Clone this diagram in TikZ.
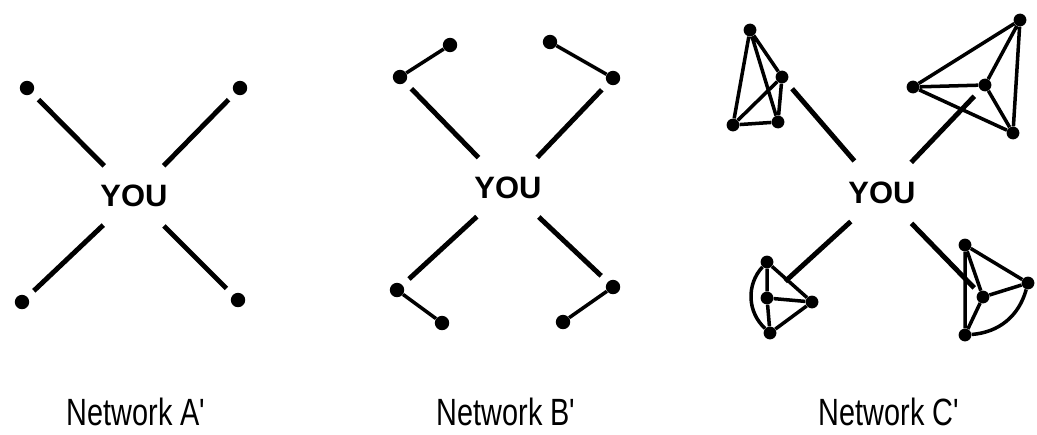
\documentclass[tikz,border=0pt]{standalone}
\usepackage{fontspec}
\setmainfont{Liberation Sans}
\newfontfamily\capfont[FakeStretch=0.76]{Liberation Sans}
\usepackage{tikz}

\tikzset{
  dot/.style={circle,fill,inner sep=0pt,minimum size=0.36cm},
  sdot/.style={circle,fill,inner sep=0pt,minimum size=0.32cm},
  you/.style={circle,inner sep=0pt,minimum size=2.1cm,font=\bfseries\fontsize{22}{22}\selectfont},
  tie/.style={line width=3.5pt,shorten <=0.22cm},
  link/.style={line width=2.5pt},
  caption/.style={inner sep=0pt,font=\capfont\fontsize{27}{27}\selectfont}
}

\begin{document}
\begin{tikzpicture}[x=0.025cm,y=-0.025cm]
    \useasboundingbox (0,0) rectangle (1037,434);

    \node[you] (ya) at (134,196) {YOU};
    \node[dot] (a1) at (27,88) {};
    \node[dot] (a2) at (240,88) {};
    \node[dot] (a3) at (22,302) {};
    \node[dot] (a4) at (238,300) {};
    \draw[tie] (a1) -- (ya);
    \draw[tie] (a2) -- (ya);
    \draw[tie] (a3) -- (ya);
    \draw[tie] (a4) -- (ya);

    \node[you] (yb) at (508,188) {YOU};
    \node[dot] (b1) at (400,77) {};
    \node[dot] (b2) at (450,45) {};
    \node[dot] (b3) at (613,78) {};
    \node[dot] (b4) at (550,42) {};
    \node[dot] (b5) at (397,290) {};
    \node[dot] (b6) at (442,323) {};
    \node[dot] (b7) at (613,287) {};
    \node[dot] (b8) at (563,322) {};
    \draw[link] (b1) -- (b2) (b3) -- (b4) (b5) -- (b6) (b7) -- (b8);
    \draw[tie] (b1) -- (yb);
    \draw[tie] (b3) -- (yb);
    \draw[tie] (b5) -- (yb);
    \draw[tie] (b7) -- (yb);

    \node[you] (yc) at (882,193) {YOU};
    \node[sdot] (c1) at (750,30) {};
    \node[sdot] (c2) at (782,77) {};
    \node[sdot] (c3) at (733,125) {};
    \node[sdot] (c4) at (778,122) {};
    \draw[link] (c1) -- (c2) (c1) -- (c3) (c1) -- (c4)
                (c2) -- (c3) (c2) -- (c4) (c3) -- (c4);
    \node[sdot] (d1) at (913,87) {};
    \node[sdot] (d2) at (985,85) {};
    \node[sdot] (d3) at (1020,20) {};
    \node[sdot] (d4) at (1013,133) {};
    \draw[link] (d1) -- (d2) (d1) -- (d3) (d1) -- (d4)
                (d2) -- (d3) (d2) -- (d4) (d3) -- (d4);
    \node[sdot] (e1) at (767,262) {};
    \node[sdot] (e2) at (767,298) {};
    \node[sdot] (e3) at (812,302) {};
    \node[sdot] (e4) at (770,333) {};
    \draw[link] (e1) -- (e2) -- (e4) (e1) -- (e3) (e2) -- (e3) (e4) -- (e3);
    \draw[link] (e1) to[bend right=45] (e4);
    \node[sdot] (f1) at (965,245) {};
    \node[sdot] (f2) at (1028,283) {};
    \node[sdot] (f3) at (983,297) {};
    \node[sdot] (f4) at (965,335) {};
    \draw[link] (f1) -- (f2) (f1) -- (f3) (f1) -- (f4) (f3) -- (f2) (f3) -- (f4);
    \draw[link] (f4) to[bend right=35] (f2);
    \draw[tie] (c2) -- (yc);
    \draw[tie] (d2) -- (yc);
    \draw[tie,shorten <=0.45cm] (e2) -- (yc);
    \draw[tie,shorten <=0.15cm] (f3) -- (yc);

    \node[caption] (na) at (136,412) {Network A'};
    \node[caption] (nb) at (506,412) {Network B'};
    \node[caption] (nc) at (889,412) {Network C'};
\end{tikzpicture}
\end{document}
